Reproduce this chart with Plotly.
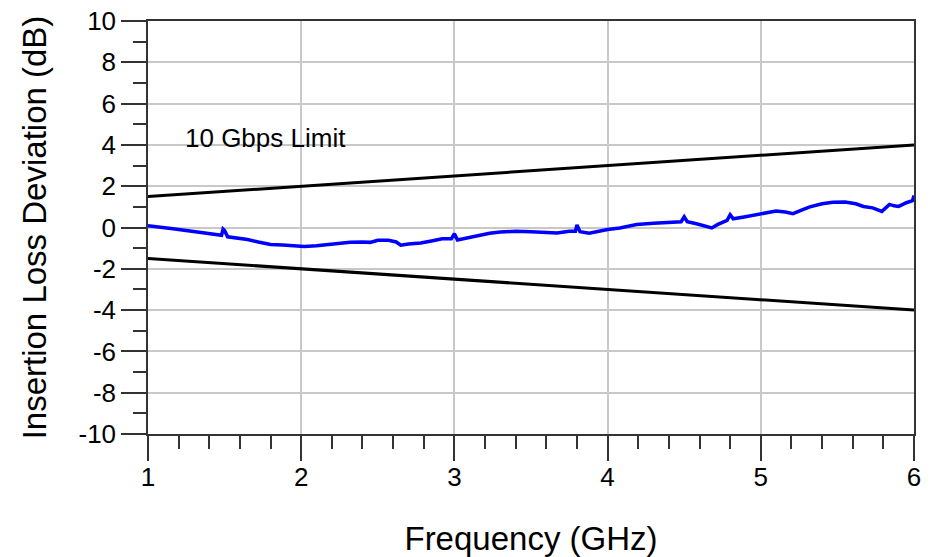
import plotly.graph_objects as go

# Measured insertion loss deviation (blue trace)
freq_ghz = [1.00, 1.05, 1.10, 1.15, 1.20, 1.25, 1.30, 1.35, 1.40, 1.45, 1.48, 1.49, 1.50, 1.52,
            1.58, 1.65, 1.72, 1.80, 1.88, 1.95, 2.02, 2.10, 2.18, 2.25, 2.32, 2.40, 2.45, 2.50,
            2.57, 2.62, 2.65, 2.70, 2.78, 2.85, 2.92, 2.98, 3.00, 3.02, 3.08, 3.15, 3.23, 3.30,
            3.40, 3.50, 3.60, 3.67, 3.75, 3.79, 3.80, 3.82, 3.88, 3.95, 4.00, 4.08, 4.19, 4.30,
            4.41, 4.48, 4.50, 4.52, 4.58, 4.64, 4.68, 4.72, 4.78, 4.80, 4.82, 4.90, 4.99, 5.05,
            5.10, 5.16, 5.21, 5.27, 5.32, 5.40, 5.47, 5.55, 5.62, 5.67, 5.73, 5.79, 5.84, 5.87,
            5.90, 5.95, 5.99, 6.00]
ild_db = [0.08, 0.05, 0.02, -0.05, -0.10, -0.15, -0.20, -0.25, -0.30, -0.35, -0.38, -0.08, -0.15, -0.45,
          -0.50, -0.58, -0.70, -0.82, -0.85, -0.90, -0.92, -0.88, -0.82, -0.78, -0.72, -0.70, -0.72, -0.62,
          -0.62, -0.70, -0.86, -0.80, -0.75, -0.65, -0.55, -0.55, -0.30, -0.60, -0.50, -0.40, -0.28, -0.22,
          -0.18, -0.20, -0.22, -0.27, -0.18, -0.18, 0.12, -0.20, -0.28, -0.15, -0.10, -0.02, 0.14, 0.20,
          0.26, 0.28, 0.52, 0.28, 0.18, 0.05, -0.02, 0.15, 0.35, 0.62, 0.42, 0.52, 0.64, 0.72,
          0.80, 0.75, 0.67, 0.85, 1.00, 1.15, 1.22, 1.23, 1.15, 1.02, 0.95, 0.78, 1.12, 1.05,
          1.02, 1.20, 1.30, 1.55]

# 10 Gbps limit lines
limit_freq = [1, 6]
upper_limit = [1.5, 4.0]
lower_limit = [-1.5, -4.0]

x_ticks = [1, 2, 3, 4, 5, 6]
y_ticks = [-10, -8, -6, -4, -2, 0, 2, 4, 6, 8, 10]

fig = go.Figure()
fig.add_trace(go.Scatter(x=limit_freq, y=upper_limit, mode="lines",
                         line=dict(color="black", width=3), showlegend=False))
fig.add_trace(go.Scatter(x=limit_freq, y=lower_limit, mode="lines",
                         line=dict(color="black", width=3), showlegend=False))
fig.add_trace(go.Scatter(x=freq_ghz, y=ild_db, mode="lines",
                         line=dict(color="#0000ff", width=3.5), showlegend=False))

fig.add_annotation(x=1.23, y=4.35, text="10 Gbps Limit", showarrow=False,
                   xanchor="left", yanchor="middle",
                   font=dict(family="Arial, Liberation Sans", size=26, color="black"))

font = dict(family="Arial, Liberation Sans", color="black")

fig.update_xaxes(range=[1, 6], tickvals=x_ticks, ticktext=[str(v) for v in x_ticks],
                 ticks="outside", ticklen=25, tickwidth=1.5, tickcolor="#333",
                 showgrid=True, gridcolor="#c8c8c8", gridwidth=1.5,
                 showline=True, linecolor="#333", linewidth=1.5, mirror=True,
                 zeroline=False, automargin=False, ticklabelstandoff=-6,
                 ticklabeloverflow="allow",
                 minor=dict(dtick=0.2, tick0=1, ticks="outside", ticklen=13,
                            tickwidth=1.5, tickcolor="#333", showgrid=False),
                 tickfont=dict(size=26, **font),
                 title=dict(text="Frequency (GHz)", font=dict(size=33, **font), standoff=37))
fig.update_yaxes(range=[-10, 10], tickvals=y_ticks, ticktext=[str(v) for v in y_ticks],
                 ticks="outside", ticklen=25, tickwidth=1.5, tickcolor="#333",
                 showgrid=True, gridcolor="#c8c8c8", gridwidth=1.5,
                 showline=True, linecolor="#333", linewidth=1.5, mirror=True,
                 zeroline=False, automargin=False, ticklabeloverflow="allow",
                 minor=dict(dtick=1, tick0=0, ticks="outside", ticklen=13,
                            tickwidth=1.5, tickcolor="#333", showgrid=False),
                 tickfont=dict(size=26, **font),
                 title=dict(text="Insertion Loss Deviation (dB)", font=dict(size=33, **font), standoff=22))

# page body has an 8px margin, so the figure is offset by (8, 8)
fig.update_layout(width=923, height=549, margin=dict(l=140, r=17, t=13, b=123),
                  plot_bgcolor="white", paper_bgcolor="white")

fig.write_html("out.html")
